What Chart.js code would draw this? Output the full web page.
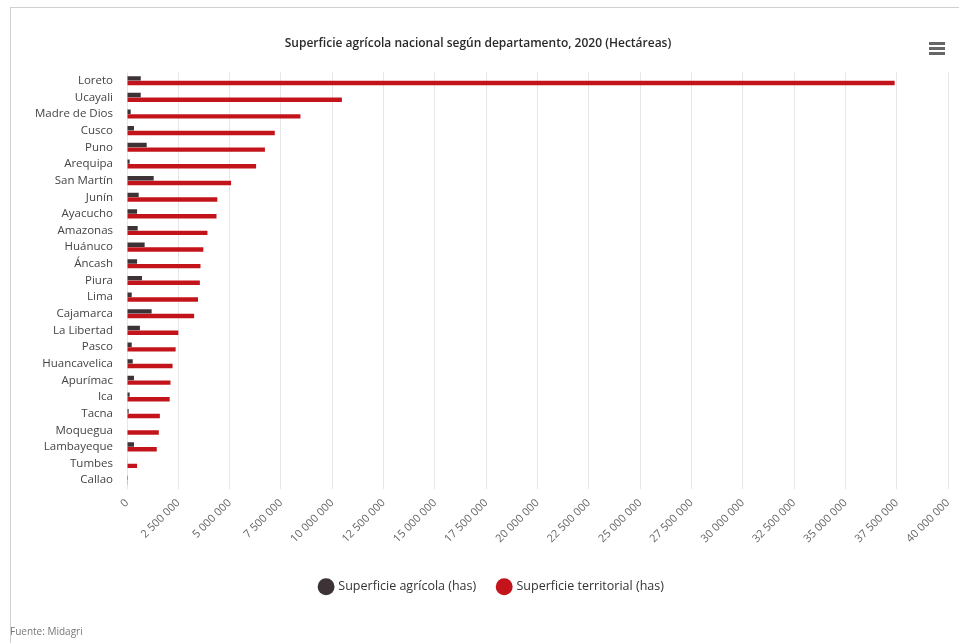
<!DOCTYPE html>
<html>
<head>
<meta charset="utf-8">
<script src="https://cdn.jsdelivr.net/npm/chart.js@4/dist/chart.umd.min.js"></script>
<style>
  html, body { margin: 0; padding: 0; background: #fff; }
  #wrap { position: relative; width: 959px; height: 643px; overflow: hidden; }
  #frame { position: absolute; left: 10px; top: 7px; width: 1000px; height: 700px; border-left: 1px solid #d0d0d0; border-top: 1px solid #d0d0d0; }
  canvas { position: absolute; left: 0; top: 0; }
  #menu { position: absolute; left: 929px; top: 42px; width: 16px; }
  #menu div { height: 3px; background: #666; margin-bottom: 2px; }
  #src { position: absolute; left: 10px; top: 624px; font: 10px "Open Sans", sans-serif; color: #777; }
</style>
</head>
<body>
<div id="wrap">
  <div id="frame"></div>
  <canvas id="c" width="959" height="643"></canvas>
  <div id="menu"><div></div><div></div><div></div></div>
  <div id="src">Fuente: Midagri</div>
</div>
<script>
const departamentos = ["Loreto","Ucayali","Madre de Dios","Cusco","Puno","Arequipa","San Martín","Junín","Ayacucho","Amazonas","Huánuco","Áncash","Piura","Lima","Cajamarca","La Libertad","Pasco","Huancavelica","Apurímac","Ica","Tacna","Moquegua","Lambayeque","Tumbes","Callao"];
const superficieAgricola = [670000,670000,180000,340000,960000,130000,1300000,570000,490000,520000,860000,490000,730000,230000,1200000,630000,230000,280000,340000,130000,80000,25000,340000,30000,5000];
const superficieTerritorial = [37400000,10470000,8450000,7200000,6720000,6290000,5070000,4400000,4360000,3920000,3720000,3580000,3550000,3460000,3270000,2500000,2370000,2220000,2120000,2080000,1600000,1550000,1450000,490000,15000];
const xTickMin = 0, xTickMax = 40000000, xTickStep = 2500000;
const titulo = "Superficie agrícola nacional según departamento, 2020 (Hectáreas)";
const serieNombres = ["Superficie agrícola (has)", "Superficie territorial (has)"];

function fmt(v) { return String(v).replace(/\B(?=(\d{3})+(?!\d))/g, " "); }

const shiftBoxes = {
  id: "shiftBoxes",
  afterLayout(chart) {
    if (chart.legend) { chart.legend.left += 18; chart.legend.right += 18; }
    if (chart.titleBlock) { chart.titleBlock.left += 4; chart.titleBlock.right += 4; }
  }
};

new Chart(document.getElementById("c"), {
  type: "bar",
  data: {
    labels: departamentos,
    datasets: [
      { label: serieNombres[0], data: superficieAgricola, backgroundColor: "#3d3337", borderWidth: 0, categoryPercentage: 0.56, barPercentage: 0.95 },
      { label: serieNombres[1], data: superficieTerritorial, backgroundColor: "#c3141b", borderWidth: 0, categoryPercentage: 0.56, barPercentage: 0.95 }
    ]
  },
  plugins: [shiftBoxes],
  options: {
    indexAxis: "y",
    responsive: false,
    animation: false,
    layout: { padding: { left: 0, right: 11, top: 0, bottom: 40 } },
    plugins: {
      title: {
        display: true, text: titulo, color: "#2a2a2a",
        font: { family: "'Open Sans', sans-serif", size: 12, weight: "600" },
        padding: { top: 36, bottom: 22 }
      },
      legend: {
        position: "bottom",
        labels: { usePointStyle: true, pointStyle: "circle", boxWidth: 12, boxHeight: 12, padding: 22, color: "#333",
          font: { family: "'Open Sans', sans-serif", size: 12.5 } }
      },
      tooltip: { enabled: false }
    },
    scales: {
      x: {
        min: xTickMin, max: xTickMax,
        ticks: { stepSize: xTickStep, minRotation: 45, maxRotation: 45, color: "#666", padding: 8,
          font: { family: "'Open Sans', sans-serif", size: 11 }, callback: v => fmt(v) },
        grid: { color: "#e6e6e6", drawTicks: false },
        border: { display: false },
        afterFit: s => { s.height = 70; s.paddingRight = 0; }
      },
      y: {
        ticks: { color: "#444", padding: 14, font: { family: "'Open Sans', sans-serif", size: 11.5 }, autoSkip: false },
        grid: { display: false, drawTicks: false },
        border: { display: false },
        afterFit: s => { s.width = 127; }
      }
    }
  }
});
</script>
</body>
</html>
